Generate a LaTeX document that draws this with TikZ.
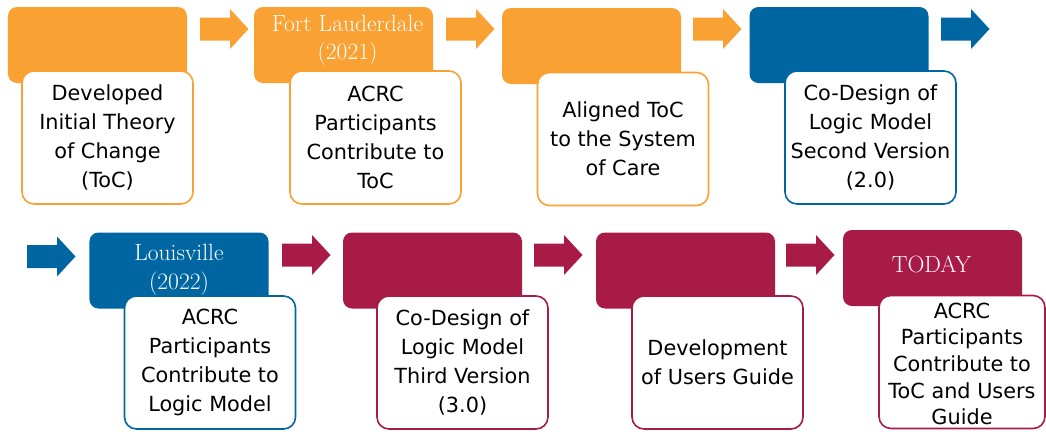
\documentclass[tikz,border=0pt]{standalone}
\usepackage{fontspec}
\newfontfamily\boxfont{DejaVu Sans}
\definecolor{corange}{HTML}{F9A133}
\definecolor{cblue}{HTML}{0066A1}
\definecolor{ccrim}{HTML}{A91B47}
\tikzset{
  cbox/.style={fill=#1, rounded corners=9bp, minimum width=179bp, minimum height=76bp, inner sep=0pt},
  wbox/.style={draw=#1, fill=white, line width=1.6bp, rounded corners=12bp, minimum width=171bp, minimum height=133bp, inner sep=0pt, align=center, font=\boxfont\fontsize{20.8bp}{29bp}\selectfont},
  ctext/.style={text=white, align=center, font=\fontsize{23.5bp}{28.5bp}\selectfont},
}
\newcommand\fatarrow[4]{% name, color, left x, center y
  \fill[#2] (#3,#4) coordinate (#1) ++(0,-11.5) -- ++(30,0) -- ++(0,-8.5) -- ++(18.5,20) -- ++(-18.5,20) -- ++(0,-8.5) -- ++(-30,0) -- cycle;}
\begin{document}
\begin{tikzpicture}[x=1bp,y=-1bp]
\useasboundingbox (0,0) rectangle (1046,431);
% row 1 coloured boxes
\node[cbox=corange] (b1) at (97.5,45) {};
\node[cbox=corange] (b2) at (343.5,45) {};
\node[cbox=corange] (b3) at (591.5,46) {};
\node[cbox=cblue]   (b4) at (839,45) {};
% row 2 coloured boxes
\node[cbox=cblue]   (b5) at (179,270.5) {};
\node[cbox=ccrim]   (b6) at (432.5,270.5) {};
\node[cbox=ccrim]   (b7) at (685.5,270.5) {};
\node[cbox=ccrim]   (b8) at (932.5,268) {};
% labels in coloured boxes
\node[ctext] (l2) at (347.5,40.5) {Fort Lauderdale\\(\oldstylenums{2021})};
\node[ctext] (l5) at (179,270) {Louisville\\(\oldstylenums{2022})};
\node[ctext] (l8) at (931.5,264) {TODAY};
% white boxes
\node[wbox=corange] (w1) at (107.5,137.5) {Developed\\Initial Theory\\of Change\\(ToC)};
\node[wbox=corange] (w2) at (375.5,137.5) {ACRC\\Participants\\Contribute to\\ToC};
\node[wbox=corange] (w3) at (623,139) {Aligned ToC\\to the System\\of Care};
\node[wbox=cblue]   (w4) at (870.5,137.5) {Co-Design of\\Logic Model\\Second Version\\(2.0)};
\node[wbox=cblue]   (w5) at (210,362.5) {ACRC\\Participants\\Contribute to\\Logic Model};
\node[wbox=ccrim]   (w6) at (462.5,362.5) {Co-Design of\\Logic Model\\Third Version\\(3.0)};
\node[wbox=ccrim]   (w7) at (717.5,362.5) {Development\\of Users Guide};
\node[wbox=ccrim, minimum width=166bp] (w8) at (962,362) {};
\node[align=center, inner sep=0pt, font=\boxfont\fontsize{20.8bp}{26.7bp}\selectfont] (t8) at (962,364) {ACRC\\Participants\\Contribute to\\ToC and Users\\Guide};
% arrows
\fatarrow{a1}{corange}{200}{29}
\fatarrow{a2}{corange}{446}{29}
\fatarrow{a3}{corange}{693}{29}
\fatarrow{a4}{cblue}{941}{29}
\fatarrow{a5}{cblue}{27}{256.5}
\fatarrow{a6}{ccrim}{282}{255}
\fatarrow{a7}{ccrim}{534}{255}
\fatarrow{a8}{ccrim}{786}{255}
\end{tikzpicture}
\end{document}
